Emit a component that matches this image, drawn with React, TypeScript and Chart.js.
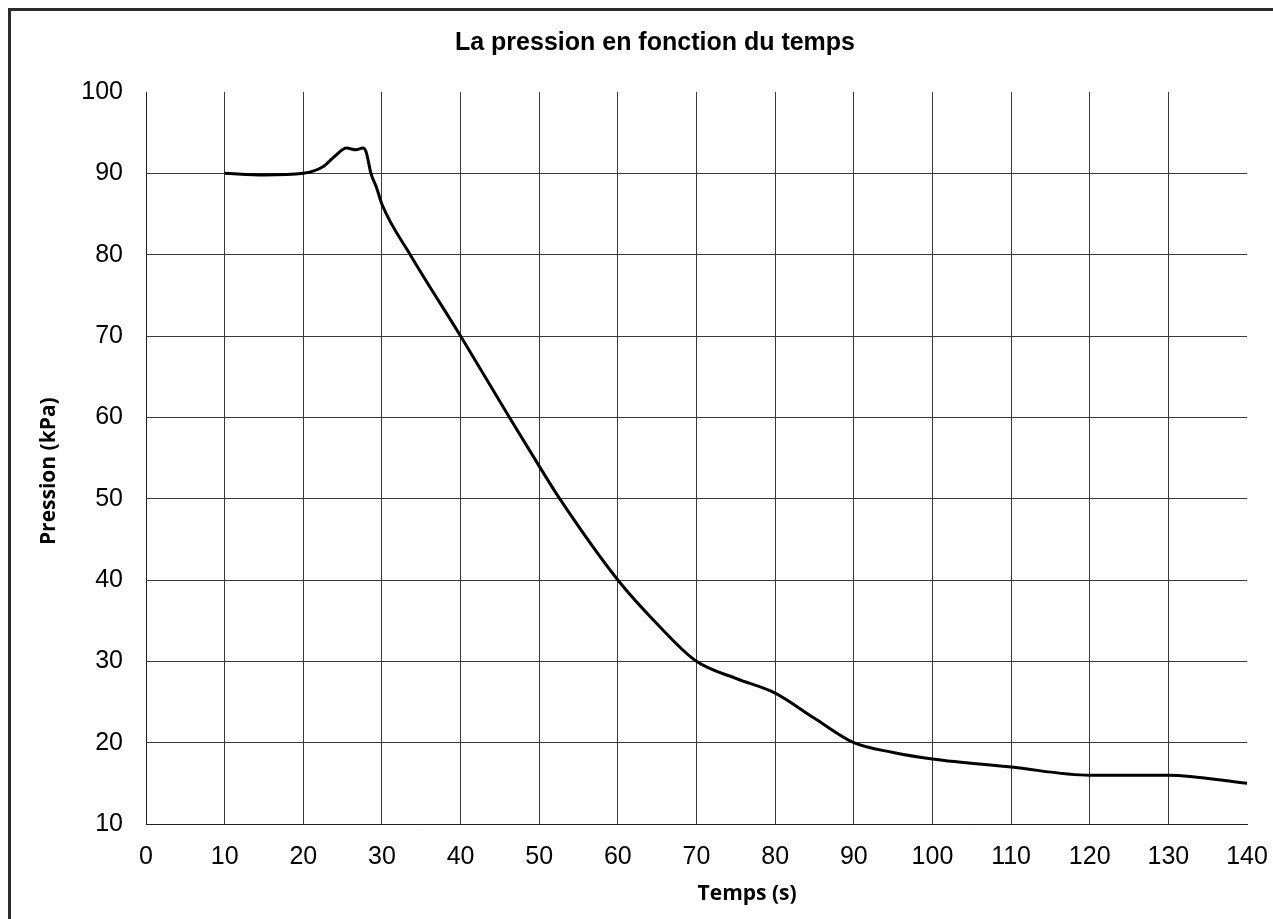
import React, { useEffect, useRef } from "react";
import { Chart, registerables } from "chart.js";

Chart.register(...registerables);

const titleText = "La pression en fonction du temps";
const xAxisTitle = "Temps (s)";
const yAxisTitle = "Pression (kPa)";

const times = [10, 15, 20, 22.5, 24, 25.5, 26.7, 27.6, 28, 28.6, 29.3, 30, 33.6, 40, 46.2, 50, 52.6, 60, 65, 70, 75, 80, 85, 90, 95, 100, 110, 120, 130, 140];
const pressures = [90, 89.8, 90, 90.8, 92.1, 93.1, 92.9, 93.1, 92.6, 90, 88.3, 86.2, 80, 70, 60, 54, 50, 40, 34.6, 30, 27.9, 26.1, 23, 20, 18.8, 18, 17, 16, 16, 15];

const xMin = 0, xMax = 140, xStep = 10;
const yMin = 10, yMax = 100, yStep = 10;

const GRID = "#3a3a3a";

const axisTitlesPlugin = {
  id: "axisTitles",
  afterDraw(chart: any) {
    const { ctx, chartArea } = chart;
    ctx.save();
    ctx.fillStyle = "#000";
    ctx.font = 'bold 21px "Open Sans"';
    ctx.textAlign = "center";
    ctx.textBaseline = "middle";
    ctx.save();
    ctx.translate(chartArea.left - 97, chartArea.top + (chartArea.bottom - chartArea.top) * 0.518);
    ctx.rotate(-Math.PI / 2);
    ctx.fillText(yAxisTitle, 0, 0);
    ctx.restore();
    ctx.fillText(xAxisTitle, chartArea.left + (chartArea.right - chartArea.left) * 0.546, chartArea.bottom + 70);
    ctx.restore();
  },
};

export default function App() {
  const canvasRef = useRef<HTMLCanvasElement | null>(null);

  useEffect(() => {
    document.body.style.overflow = "hidden";
    document.documentElement.style.overflow = "hidden";
    const canvas = canvasRef.current;
    if (!canvas) return;
    const data = times.map((t, i) => ({ x: t, y: pressures[i] }));
    const chart = new Chart(canvas, {
      type: "line",
      data: {
        datasets: [
          {
            label: "Pression",
            data,
            borderColor: "#000",
            borderWidth: 3,
            pointRadius: 0,
            fill: false,
            cubicInterpolationMode: "monotone",
          },
        ],
      },
      options: {
        animation: false,
        responsive: false,
        maintainAspectRatio: false,
        layout: { padding: 0 },
        plugins: {
          legend: { display: false },
          tooltip: { enabled: false },
          title: {
            display: true,
            text: titleText,
            color: "#000",
            font: { family: '"Liberation Sans", Arial, sans-serif', size: 25, weight: "bold" },
            padding: { top: 17, bottom: 34 },
          },
        },
        scales: {
          x: {
            type: "linear",
            min: xMin,
            max: xMax,
            afterFit(scale: any) {
              scale.height = 95;
            },
            ticks: {
              stepSize: xStep,
              color: "#000",
              padding: 18,
              font: { family: '"Liberation Sans", Arial, sans-serif', size: 25 },
            },
            grid: {
              drawTicks: false,
              color: (c: any) => (c.tick && c.tick.value === xMax ? "rgba(0,0,0,0)" : GRID),
              lineWidth: 1,
            },
            border: { display: true, color: "#222", width: 1 },
          },
          y: {
            type: "linear",
            min: yMin,
            max: yMax,
            afterFit(scale: any) {
              scale.width = 135;
            },
            ticks: {
              stepSize: yStep,
              color: "#000",
              padding: 23,
              font: { family: '"Liberation Sans", Arial, sans-serif', size: 25 },
            },
            grid: {
              drawTicks: false,
              color: (c: any) => (c.tick && c.tick.value === yMax ? "rgba(0,0,0,0)" : GRID),
              lineWidth: 1,
            },
            border: { display: true, color: "#222", width: 1 },
          },
          yRight: {
            type: "linear",
            position: "right",
            min: yMin,
            max: yMax,
            afterFit(scale: any) {
              scale.width = 52;
            },
            ticks: { display: false },
            grid: { display: false, drawTicks: false },
            border: { display: false },
          },
        },
      },
      plugins: [axisTitlesPlugin],
    });
    return () => chart.destroy();
  }, []);

  return (
    <div
      style={{
        position: "fixed",
        left: 8,
        top: 8,
        width: 1320,
        height: 960,
        border: "3px solid #2b2b2b",
        boxSizing: "border-box",
        background: "#fff",
      }}
    >
      <canvas ref={canvasRef} width={1288} height={908} style={{ display: "block" }} />
    </div>
  );
}
